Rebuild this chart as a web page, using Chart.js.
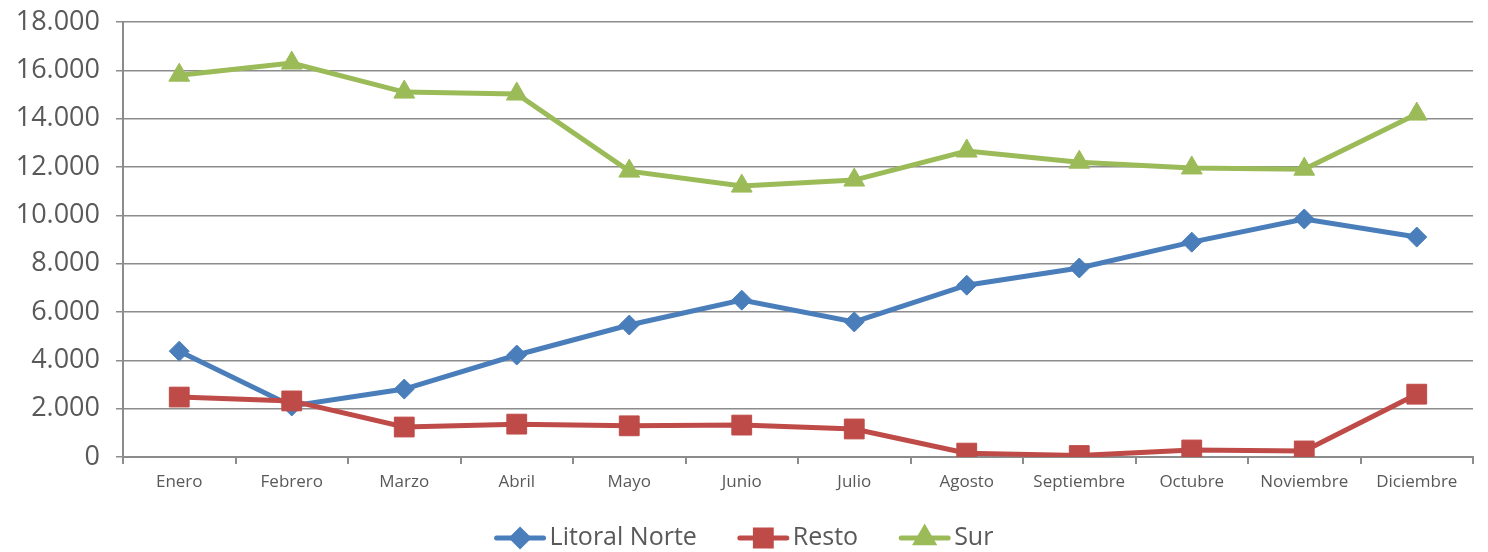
<!DOCTYPE html>
<html lang="es">
<head>
<meta charset="UTF-8">
<title>Serie mensual por zona</title>
<script src="https://cdn.jsdelivr.net/npm/chart.js@4.4.1/dist/chart.umd.min.js"></script>
<style>
    html, body { margin: 0; padding: 0; background: #fff; }
    .wrap { width: 1488px; height: 552px; }
</style>
</head>
<body>
<div class="wrap"><canvas id="chart"></canvas></div>
<script>
const months = ['Enero', 'Febrero', 'Marzo', 'Abril', 'Mayo', 'Junio', 'Julio', 'Agosto', 'Septiembre', 'Octubre', 'Noviembre', 'Diciembre'];
const litoralNorte = [4380, 2110, 2810, 4220, 5460, 6490, 5590, 7110, 7820, 8890, 9850, 9100];
const resto = [2480, 2320, 1240, 1360, 1290, 1320, 1160, 160, 60, 290, 250, 2600];
const sur = [15800, 16300, 15100, 15020, 11830, 11210, 11460, 12660, 12200, 11960, 11910, 14190];
const yTicks = [0, 2000, 4000, 6000, 8000, 10000, 12000, 14000, 16000, 18000];

const FONT = "'Open Sans', sans-serif";
const TEXT = '#595959';
const GRID = '#8c8c8c';

function fmt(v) {
    return String(v).replace(/\B(?=(\d{3})+(?!\d))/g, '.');
}

const series = [
    { label: 'Litoral Norte', data: litoralNorte, color: '#4A7EBB', style: 'rectRot', radius: 10, order: 3 },
    { label: 'Resto', data: resto, color: '#BE4B48', style: 'rect', radius: 14, order: 2 },
    { label: 'Sur', data: sur, color: '#9BBB59', style: 'triangle', radius: 12, order: 1 }
];

const datasets = series.map(s => ({
    label: s.label,
    data: s.data,
    borderColor: s.color,
    backgroundColor: s.color,
    borderWidth: 5,
    pointStyle: s.style,
    pointRadius: s.radius,
    pointHoverRadius: s.radius,
    pointBorderWidth: 1,
    pointBackgroundColor: s.color,
    pointBorderColor: s.color,
    tension: 0,
    order: s.order
}));

// legend drawn by hand: line + marker, then the name, centred under the chart
const lineLegend = {
    id: 'lineLegend',
    afterDraw(chart) {
        const ctx = chart.ctx;
        const iconW = 51, textGap = 4, itemGap = 41;
        const y = chart.height - 14;
        ctx.save();
        ctx.font = "25px 'Open Sans', sans-serif";
        const widths = series.map(s => iconW + textGap + ctx.measureText(s.label).width);
        const total = widths.reduce((a, b) => a + b, 0) + itemGap * (series.length - 1);
        let x = (chart.width - total) / 2;
        series.forEach((s, i) => {
            ctx.strokeStyle = s.color;
            ctx.fillStyle = s.color;
            ctx.lineWidth = 5;
            ctx.lineCap = 'round';
            ctx.beginPath();
            ctx.moveTo(x + 2, y);
            ctx.lineTo(x + iconW - 2, y);
            ctx.stroke();
            Chart.helpers.drawPoint(ctx, { pointStyle: s.style, radius: s.radius * 0.8, borderWidth: 1, rotation: 0 }, x + iconW / 2, y);
            ctx.fillStyle = TEXT;
            ctx.textBaseline = 'middle';
            ctx.textAlign = 'left';
            ctx.fillText(s.label, x + iconW + textGap, y);
            x += widths[i] + itemGap;
        });
        ctx.restore();
    }
};

new Chart(document.getElementById('chart'), {
    type: 'line',
    data: { labels: months, datasets: datasets },
    plugins: [lineLegend],
    options: {
        responsive: true,
        maintainAspectRatio: false,
        animation: false,
        layout: { padding: { top: 22, right: 9, left: 0, bottom: 55 } },
        plugins: {
            tooltip: { enabled: false },
            legend: { display: false }
        },
        scales: {
            x: {
                offset: true,
                grid: {
                    offset: true,
                    drawOnChartArea: true,
                    color: ctx => ctx.index === months.length ? GRID : 'rgba(0,0,0,0)',
                    tickColor: GRID,
                    tickLength: 7,
                    lineWidth: 2
                },
                border: { color: GRID, width: 2 },
                ticks: {
                    font: { family: FONT, size: 17 },
                    color: TEXT,
                    padding: 8,
                    maxRotation: 0,
                    autoSkip: false
                },
                afterFit: scale => {
                    scale.height = 40;
                    scale.paddingLeft = 0;
                    scale.paddingRight = 0;
                }
            },
            y: {
                min: 0,
                max: 18000,
                afterBuildTicks: scale => { scale.ticks = yTicks.map(v => ({ value: v })); },
                grid: {
                    color: GRID,
                    lineWidth: 1.5,
                    tickLength: 7,
                    tickColor: GRID
                },
                border: { color: GRID, width: 2 },
                ticks: {
                    font: { family: FONT, size: 27 },
                    color: TEXT,
                    padding: 16,
                    callback: v => fmt(v)
                },
                afterFit: scale => {
                    scale.width = 123;
                    scale.paddingTop = 0;
                    scale.paddingBottom = 0;
                }
            }
        }
    }
});
</script>
</body>
</html>
